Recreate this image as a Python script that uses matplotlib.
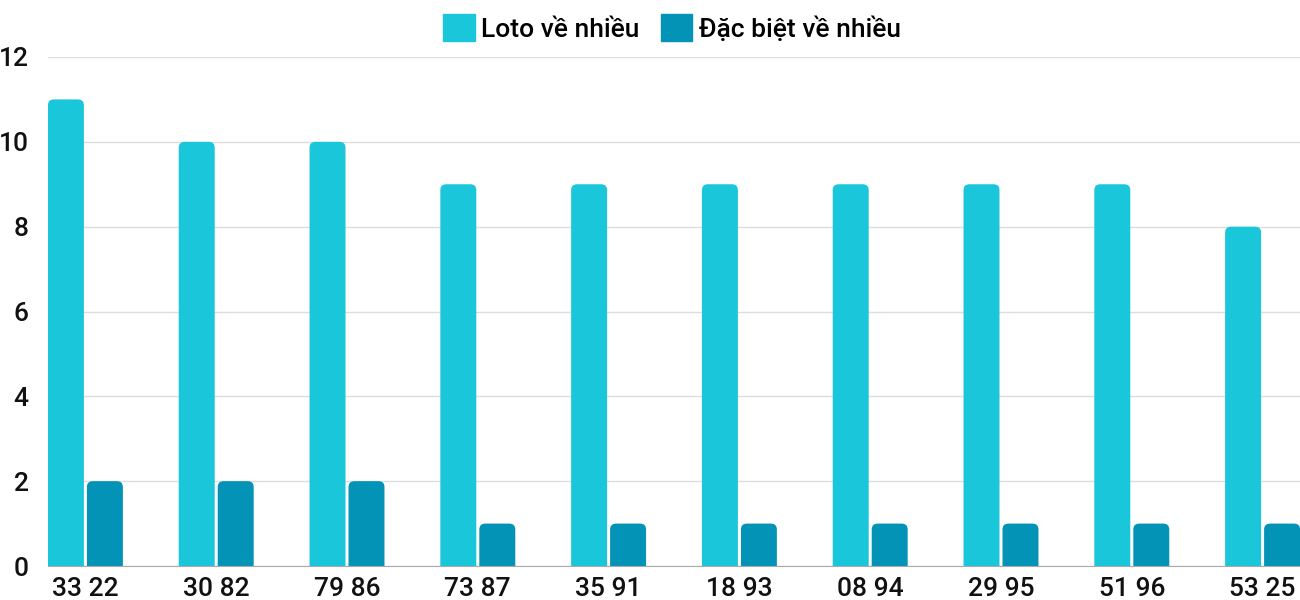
import numpy as np
import matplotlib.pyplot as plt
from matplotlib.patches import FancyBboxPatch, Patch

# Dữ liệu
cap_so = ['33 22', '30 82', '79 86', '73 87', '35 91', '18 93', '08 94', '29 95', '51 96', '53 25']
loto = [11, 10, 10, 9, 9, 9, 9, 9, 9, 8]
dac_biet = [2, 2, 2, 1, 1, 1, 1, 1, 1, 1]

mau_loto = '#1ac6da'
mau_db = '#0393b7'

plt.rcParams['font.family'] = ['Roboto', 'DejaVu Sans']
plt.rcParams['font.weight'] = 'medium'

fig = plt.figure(figsize=(13, 6), dpi=100)
ax = fig.add_axes([48 / 1300, 34 / 600, 1252 / 1300, 509 / 600])

x = np.arange(len(cap_so))
w = 0.275
off = 0.149

b1 = ax.bar(x - off, loto, w, color=mau_loto)
b2 = ax.bar(x + off, dac_biet, w, color=mau_db)

# bo tròn góc trên của cột
r = 0.046
asp = 3.0
for bars in (b1, b2):
    for rect in bars:
        rect.set_visible(False)
        bx, by = rect.get_x(), rect.get_y()
        bw, bh = rect.get_width(), rect.get_height()
        p = FancyBboxPatch((bx, by - 0.3), bw, bh + 0.3,
                           boxstyle='round,pad=0,rounding_size=%f' % r,
                           mutation_aspect=asp, facecolor=rect.get_facecolor(),
                           edgecolor='none', zorder=2)
        ax.add_patch(p)

ax.set_xlim(-0.286, len(cap_so) - 1 + 0.286)
ax.set_ylim(0, 12)
ax.set_yticks([0, 2, 4, 6, 8, 10, 12])
ax.set_xticks(x)
ax.set_xticklabels(cap_so)

ax.grid(axis='y', color='#dddddd', linewidth=1)
ax.set_axisbelow(True)
for s in ['top', 'right', 'left']:
    ax.spines[s].set_visible(False)
ax.spines['bottom'].set_color('#aaaaaa')
ax.spines['bottom'].set_zorder(3)
ax.tick_params(axis='both', length=0, labelsize=19, colors='#111111')
ax.tick_params(axis='y', pad=14)
ax.tick_params(axis='x', pad=8)

handles = [Patch(color=mau_loto, label='Loto về nhiều'),
           Patch(color=mau_db, label='Đặc biệt về nhiều')]
fig.legend(handles=handles, loc='center', bbox_to_anchor=(672 / 1300, 1 - 28 / 600),
           ncol=2, frameon=False, fontsize=19, handlelength=1.2, handleheight=1.2,
           handletextpad=0.25, columnspacing=0.8)

fig.savefig('out.png', dpi=100)
